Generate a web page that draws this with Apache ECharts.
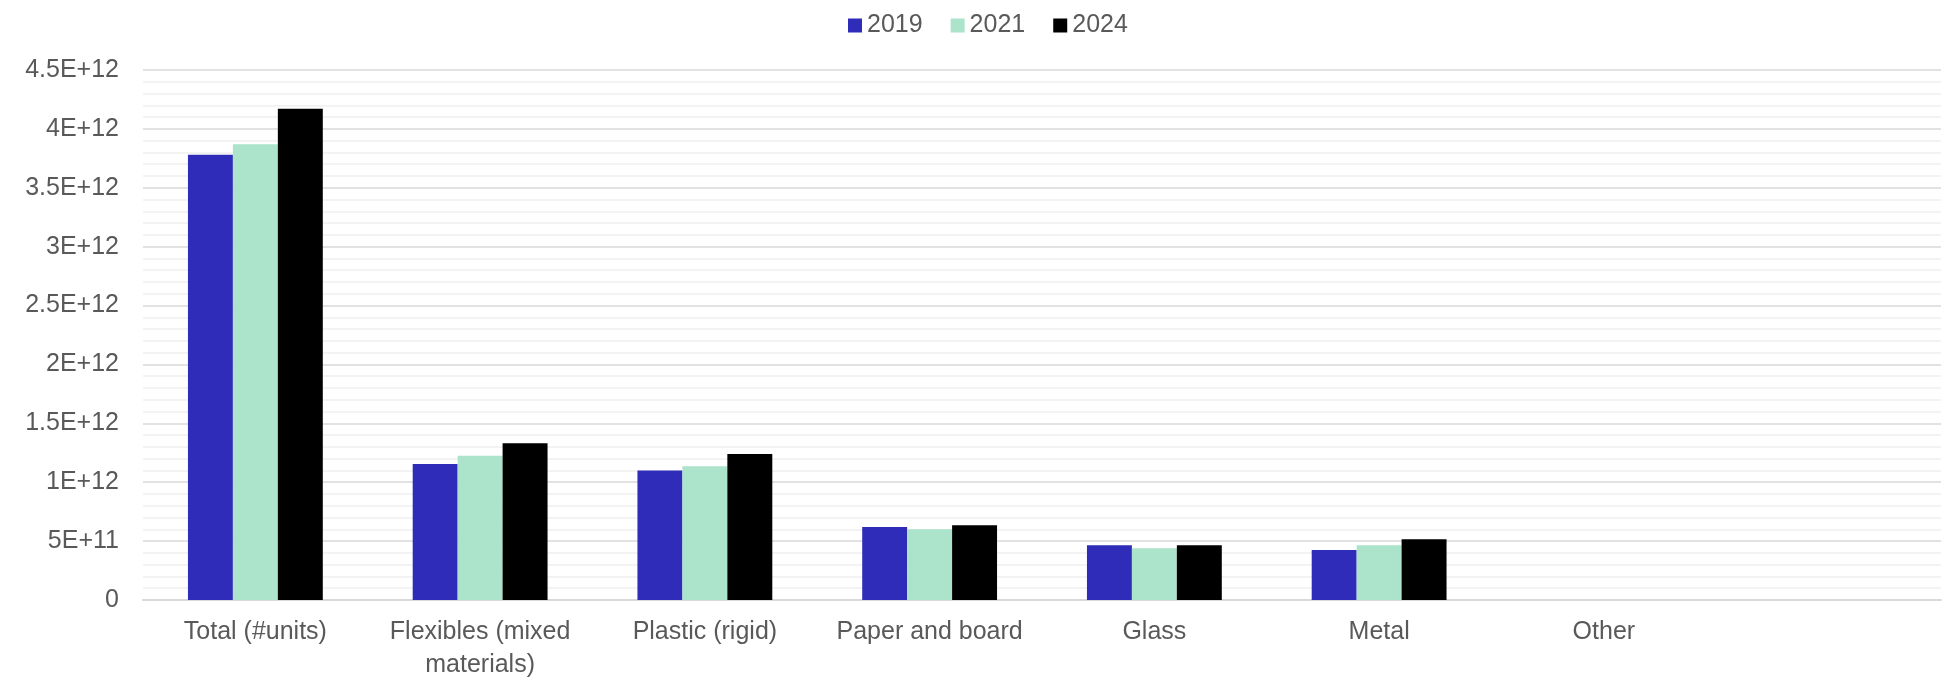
<!DOCTYPE html>
<html>
<head>
<meta charset="utf-8">
<script src="https://cdn.jsdelivr.net/npm/echarts@6/dist/echarts.min.js"></script>
<style>
  html, body { margin: 0; padding: 0; background: #fff; }
  #chart { width: 1948px; height: 682px; }
</style>
</head>
<body>
<div id="chart"></div>
<script>
var categories = ['Total (#units)', 'Flexibles (mixed\nmaterials)', 'Plastic (rigid)', 'Paper and board', 'Glass', 'Metal', 'Other', ''];
var years = ['2019', '2021', '2024'];

var values2019 = [3.78e12, 1.155e12, 1.10e12, 0.62e12, 0.465e12, 0.425e12, null, null];
var values2021 = [3.87e12, 1.225e12, 1.135e12, 0.60e12, 0.44e12, 0.465e12, null, null];
var values2024 = [4.17e12, 1.33e12, 1.24e12, 0.635e12, 0.465e12, 0.515e12, null, null];

var colors = {
  y2019: '#2e2cb8',
  y2021: '#abe3cb',
  y2024: '#000000'
};

var font = 'Liberation Sans, Arial, sans-serif';

// Excel style scientific labels: 4.5E+12, 5E+11, 0
function sciLabel(v) {
  if (v === 0) return '0';
  var e = Math.floor(Math.log10(v));
  var m = +(v / Math.pow(10, e)).toFixed(2);
  return m + 'E+' + e;
}

var chart = echarts.init(document.getElementById('chart'));

var barSeries = function (name, data, color) {
  return {
    name: name,
    type: 'bar',
    data: data,
    barGap: 0,
    barCategoryGap: '40%',
    itemStyle: { color: color },
    emphasis: { disabled: true }
  };
};

var option = {
  animation: false,
  legend: {
    data: years,
    top: 8,
    left: 843,
    itemWidth: 14,
    itemHeight: 14,
    itemGap: 28,
    icon: 'rect',
    textStyle: { fontFamily: font, fontSize: 25, color: '#595959' }
  },
  grid: { left: 143, right: 7, top: 70, bottom: 79, containLabel: false },
  xAxis: {
    type: 'category',
    data: categories,
    axisLine: { lineStyle: { color: '#d9d9d9', width: 2 } },
    axisTick: { show: false },
    axisLabel: {
      interval: 0,
      margin: 16,
      fontFamily: font,
      fontSize: 25,
      lineHeight: 33,
      color: '#595959'
    }
  },
  yAxis: {
    type: 'value',
    min: 0,
    max: 4.5e12,
    interval: 0.5e12,
    axisLine: { show: false },
    axisTick: { show: false },
    axisLabel: {
      margin: 24,
      fontFamily: font,
      fontSize: 25,
      color: '#595959',
      formatter: sciLabel
    },
    splitLine: { show: true, lineStyle: { color: '#d9d9d9', width: 1.5 } },
    minorTick: { show: false, splitNumber: 5 },
    minorSplitLine: { show: true, lineStyle: { color: '#f0f0f0', width: 1.5 } }
  },
  series: [
    barSeries('2019', values2019, colors.y2019),
    barSeries('2021', values2021, colors.y2021),
    barSeries('2024', values2024, colors.y2024)
  ]
};

chart.setOption(option);
</script>
</body>
</html>
